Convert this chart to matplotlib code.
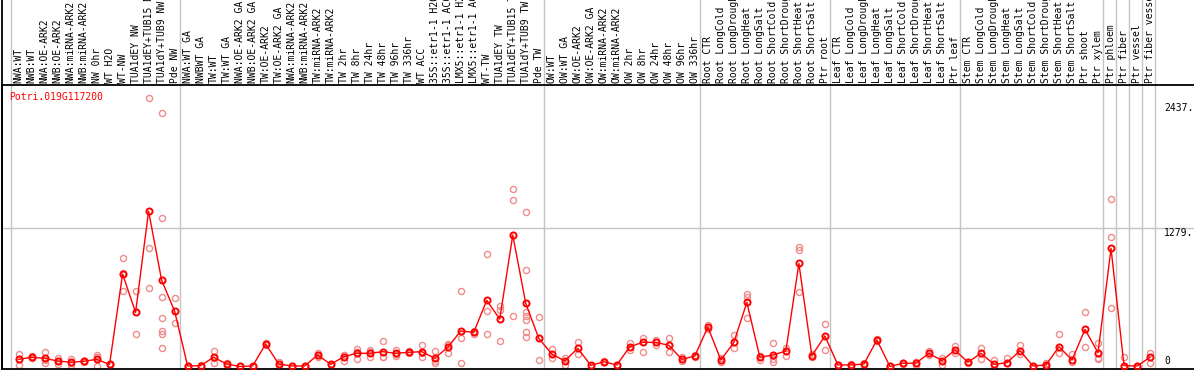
import matplotlib
matplotlib.use("Agg")
import matplotlib.pyplot as plt
import matplotlib.transforms as mtransforms
from matplotlib.lines import Line2D

# ---------------------------------------------------------------------
# data
# ---------------------------------------------------------------------
gene = "Potri.019G117200"

samples = [
    # NW
    "NWA:WT", "NWB:WT", "NWA:OE-ARK2", "NWB:OE-ARK2", "NWA:miRNA-ARK2",
    "NWB:miRNA-ARK2", "NW 0hr", "WT H2O", "WT-NW", "TUA1dEY NW",
    "TUA1dEY+TUB15 NW", "TUA1dY+TUB9 NW", "Pde NW",
    # TW
    "NWA:WT GA", "NWBWT GA", "TW:WT", "TW:WT GA", "NWA:OE-ARK2 GA",
    "NWB:OE-ARK2 GA", "TW:OE-ARK2", "TW:OE-ARK2 GA", "NWA:miRNA-ARK2",
    "NWB:miRNA-ARK2", "TW:miRNA-ARK2", "TW:miRNA-ARK2", "TW 2hr", "TW 8hr",
    "TW 24hr", "TW 48hr", "TW 96hr", "TW 336hr", "WT ACC",
    "35S::etr1-1 H2O", "35S::etr1-1 ACC", "LMX5::etr1-1 H2O",
    "LMX5::etr1-1 ACC", "WT-TW", "TUA1dEY TW", "TUA1dEY+TUB15 TW",
    "TUA1dY+TUB9 TW", "Pde TW",
    # OW
    "OW:WT", "OW:WT GA", "OW:OE-ARK2", "OW:OE-ARK2 GA", "OW:miRNA-ARK2",
    "OW:miRNA-ARK2", "OW 2hr", "OW 8hr", "OW 24hr", "OW 48hr", "OW 96hr",
    "OW 336hr",
    # root
    "Root CTR", "Root LongCold", "Root LongDrought", "Root LongHeat",
    "Root LongSalt", "Root ShortCold", "Root ShortDrought", "Root ShortHeat",
    "Root ShortSalt", "Ptr root",
    # leaf
    "Leaf CTR", "Leaf LongCold", "Leaf LongDrought", "Leaf LongHeat",
    "Leaf LongSalt", "Leaf ShortCold", "Leaf ShortDrought", "Leaf ShortHeat",
    "Leaf ShortSalt", "Ptr leaf",
    # stem
    "Stem CTR", "Stem LongCold", "Stem LongDrought", "Stem LongHeat",
    "Stem LongSalt", "Stem ShortCold", "Stem ShortDrought", "Stem ShortHeat",
    "Stem ShortSalt", "Ptr shoot", "Ptr xylem",
    "Ptr phloem", "Ptr fiber", "Ptr vessel", "Ptr fiber vessel",
]

group_sizes = [13, 28, 12, 10, 10, 11, 1, 1, 1, 1]

means = [
    66, 85, 76, 51, 39, 48, 66, 20, 854, 500, 1435, 798, 512,
    5, 8, 85, 23, 0, 5, 208, 23, 5, 5, 106, 20, 90, 122, 122, 137, 122,
    131, 137, 76, 177, 328, 316, 611, 438, 1214, 583, 260,
    115, 51, 168, 10, 44, 14, 183, 223, 223, 196, 66, 97,
    365, 60, 223, 592, 85, 106, 143, 952, 100, 282,
    14, 14, 23, 245, 0, 30, 30, 122, 54, 152,
    39, 122, 20, 35, 146, 5, 14, 183, 60, 343, 127,
    1091, 8, 5, 85,
]

replicates = [
    [115, 14, 69], [97, 78, 80], [131, 35, 62], [76, 23, 54], [72, 14, 32],
    [52, 44, 48], [106, 88, 4], [22, 18, 20], [999, 697, 866], [697, 297],
    [2476, 1091, 722], [2337, 1368, 639, 445, 330, 300, 168], [629, 399],
    [3, 7, 5], [3, 12], [143, 35, 77], [35, 5], [0, 2], [3, 7], [214, 200],
    [44, 5], [5, 3], [3, 7], [122, 90], [25, 15], [54, 106, 110],
    [159, 72, 135], [150, 85, 131], [235, 88, 88], [150, 97, 119],
    [140, 122], [196, 90, 125], [143, 30, 55], [208, 127, 196],
    [697, 266, 30], [330, 302], [1038, 512, 297], [558, 521, 235],
    [1636, 1534, 463], [1423, 891, 500, 466, 429, 316, 270], [454, 60],
    [164, 76], [76, 14], [229, 115], [5], [50, 38], [10, 18], [220, 150],
    [266, 131], [245, 200], [266, 137], [85, 48], [88, 106],
    [383, 347], [75, 45], [288, 168], [666, 645, 445], [97, 60],
    [214, 66, 44], [168, 97], [1106, 1075, 690], [115, 85], [390, 152],
    [10, 18], [25, 5], [35, 10], [252, 238], [0, 3], [35, 25], [40, 15],
    [140, 105], [76, 10], [192, 122],
    [44, 33], [174, 66], [60, 5], [76, 30], [196, 115], [3, 7], [35, 5],
    [297, 122], [115, 45], [500, 183], [214, 81, 70],
    [1546, 1193, 537], [85, 0], [3, 7], [127, 35],
]

ytick_values = [0, 1279, 2437]
ytick_labels = ["0", "1279.", "2437."]

# ---------------------------------------------------------------------
# layout (pixel based)
# ---------------------------------------------------------------------
W, H, DPI = 1194, 370, 100
AX_LEFT, AX_TOP, AX_BOTTOM = 1.5, 85.0, 368.5
RED = "#ff0000"
PINK = "#f08c8c"
GRID = "#c4c4c4"
FONT = "DejaVu Sans Mono"
FS = 7

fig = plt.figure(figsize=(W / DPI, H / DPI), dpi=DPI)
fig.patch.set_facecolor("white")
ax = fig.add_axes([AX_LEFT / W, 1 - AX_BOTTOM / H, 1 - AX_LEFT / W,
                   (AX_BOTTOM - AX_TOP) / H])

ax.set_xlim(-1.31, 90.38)
ax.set_ylim(-18.5, 2600)
ax.set_xticks([])
ax.set_yticks([])
for side in ["left", "top", "bottom"]:
    ax.spines[side].set_color("black")
    ax.spines[side].set_linewidth(1.3)
ax.spines["right"].set_visible(False)

# left border runs up through the label strip
fig.add_artist(Line2D([AX_LEFT / W, AX_LEFT / W], [0, 1], transform=fig.transFigure,
                      color="black", lw=1.3))

# group separators, full height
ext = 1 + AX_TOP / (AX_BOTTOM - AX_TOP)
trans_xa = mtransforms.blended_transform_factory(ax.transData, ax.transAxes)
start = 0
bounds = [start - 0.6]
for g in group_sizes:
    start += g
    bounds.append(start - 0.6)
for b in bounds:
    ax.plot([b, b], [0, ext], transform=trans_xa, color=GRID, lw=1,
            clip_on=False, zorder=0)

ax.axhline(1279, color=GRID, lw=1, zorder=0)

# replicates
for i, reps in enumerate(replicates):
    ax.plot([i] * len(reps), reps, linestyle="none", marker="o", ms=4.4,
            mfc="none", mec=PINK, mew=1.0, zorder=2)

# means
x = list(range(len(means)))
ax.plot(x, means, color=RED, lw=1.0, marker="o", ms=4.4, mfc="none",
        mec=RED, mew=1.4, zorder=3)

# sample labels
for i, name in enumerate(samples):
    ax.annotate(name, xy=(i, 1), xycoords=trans_xa, xytext=(0, 2),
                textcoords="offset pixels", rotation=90, ha="center",
                va="bottom", fontsize=FS, family=FONT, annotation_clip=False)

# y labels on the right, inside the frame
trans_fy = mtransforms.blended_transform_factory(fig.transFigure, ax.transData)
for v, lab in zip(ytick_values, ytick_labels):
    ax.text(1164 / W, v, lab, transform=trans_fy, fontsize=FS, family=FONT,
            ha="left", va="bottom" if v == 0 else "top")

fig.text(9.5 / W, 1 - 92 / H, gene, color=RED, fontsize=FS, family=FONT,
         ha="left", va="top")

fig.savefig("out.png", dpi=DPI, facecolor="white")
